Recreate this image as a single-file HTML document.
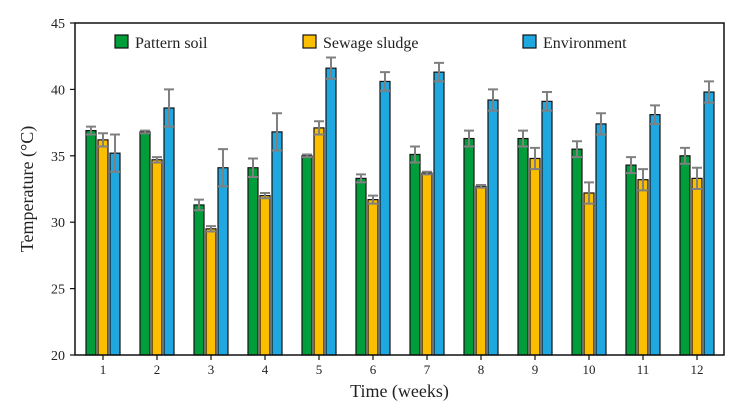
<!DOCTYPE html>
<html><head><meta charset="utf-8"><style>
body{margin:0;background:#fff}
svg text{font-family:"Liberation Serif",serif;fill:#222}
</style></head><body>
<svg id="c" width="736" height="404"></svg>
<script>
const weeks=["1","2","3","4","5","6","7","8","9","10","11","12"];
const patternSoil=[36.9,36.8,31.3,34.1,35.0,33.3,35.1,36.3,36.3,35.5,34.3,35.0];
const sewageSludge=[36.2,34.7,29.5,32.0,37.1,31.7,33.7,32.7,34.8,32.2,33.2,33.3];
const environment=[35.2,38.6,34.1,36.8,41.6,40.6,41.3,39.2,39.1,37.4,38.1,39.8];
const patternErr=[0.3,0.1,0.4,0.7,0.1,0.3,0.6,0.6,0.6,0.6,0.6,0.6];
const sewageErr=[0.5,0.2,0.2,0.2,0.5,0.3,0.1,0.1,0.8,0.8,0.8,0.8];
const envErr=[1.4,1.4,1.4,1.4,0.8,0.7,0.7,0.8,0.7,0.8,0.7,0.8];
const yTicks=[20,25,30,35,40,45];
const NS="http://www.w3.org/2000/svg",svg=document.getElementById('c');
const L=75,R=724,T=23,B=355;
const y=v=>B-(v-20)/25*(B-T);
const xc=i=>103+i*54;
function mk(t,a){const e=document.createElementNS(NS,t);for(const k in a)e.setAttribute(k,a[k]);svg.appendChild(e);return e;}
const series=[[patternSoil,patternErr,"#009e3a","pattern-soil"],[sewageSludge,sewageErr,"#fbbf00","sewage-sludge"],[environment,envErr,"#1fa8e0","environment"]];
series.forEach((s,si)=>{
  s[0].forEach((v,i)=>{
    const cx=xc(i)+(si-1)*12;
    const b=mk('rect',{x:cx-5,y:y(v),width:10,height:B-y(v),fill:s[2],stroke:"#111","stroke-width":1.2});
    
    
    const e=s[1][i],g=mk('path',{d:`M${cx} ${y(v+e)}V${y(v-e)}M${cx-5} ${y(v+e)}H${cx+5}M${cx-5} ${y(v-e)}H${cx+5}`,stroke:"#808080","stroke-width":2,fill:"none"});
    
    
  });
});
const fr=mk('rect',{x:L,y:T,width:R-L,height:B-T,fill:"none",stroke:"#111","stroke-width":1.5});

yTicks.forEach(v=>{
  mk('line',{x1:L-5,x2:L,y1:y(v),y2:y(v),stroke:"#111","stroke-width":1.2});
  const t=mk('text',{x:L-10,y:y(v)+5,"text-anchor":"end","font-size":14});t.textContent=v;
  
});
weeks.forEach((w,i)=>{
  mk('line',{x1:xc(i),x2:xc(i),y1:B,y2:B+5,stroke:"#111","stroke-width":1.2});
  const t=mk('text',{x:xc(i),y:B+19,"text-anchor":"middle","font-size":13});t.textContent=w;
  
});
const yt=mk('text',{x:0,y:0,"text-anchor":"middle","font-size":18,transform:`translate(33,${(T+B)/2}) rotate(-90)`});yt.textContent="Temperature (°C)";

const xt=mk('text',{x:(L+R)/2,y:397,"text-anchor":"middle","font-size":18});xt.textContent="Time (weeks)";

const leg=[["Pattern soil",115],["Sewage sludge",303],["Environment",523]];
leg.forEach((l,i)=>{
  const r=mk('rect',{x:l[1],y:35,width:13,height:13,fill:series[i][2],stroke:"#111","stroke-width":1.2});
  
  const t=mk('text',{x:l[1]+20,y:48,"font-size":16});t.textContent=l[0];
  
});
</script>
</body></html>
